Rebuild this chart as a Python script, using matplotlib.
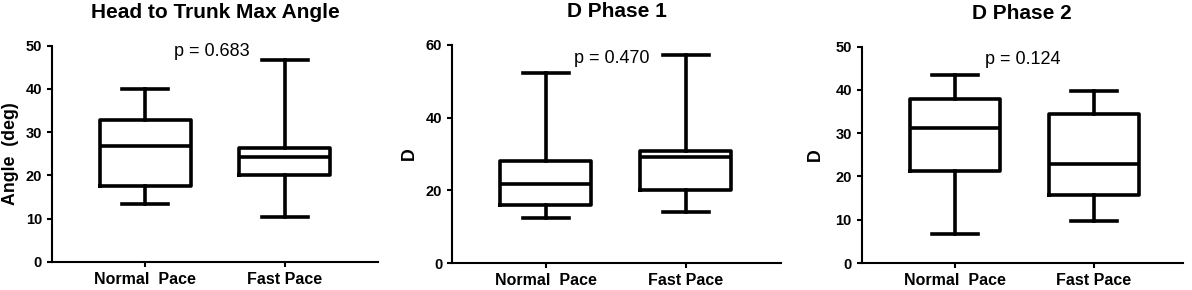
import matplotlib
matplotlib.use("Agg")
import matplotlib.pyplot as plt

plt.rcParams["font.family"] = ["Liberation Sans", "DejaVu Sans"]

# five-number summaries (min, Q1, median, Q3, max)
groups = ["Normal  Pace", "Fast Pace"]

head_normal = [13.4, 17.5, 26.8, 32.7, 40.0]
head_fast = [10.3, 20.2, 24.2, 26.3, 46.7]

phase1_normal = [12.4, 16.0, 21.7, 28.0, 52.3]
phase1_fast = [14.1, 20.1, 29.1, 30.9, 57.2]

phase2_normal = [6.6, 21.3, 31.3, 38.0, 43.5]
phase2_fast = [9.8, 15.8, 22.8, 34.4, 39.8]

titles = ["Head to Trunk Max Angle", "D Phase 1", "D Phase 2"]
ylabels = ["Angle  (deg)", "D", "D"]
p_texts = ["p = 0.683", "p = 0.470", "p = 0.124"]
y_maxes = [50, 60, 50]
y_steps = [10, 20, 10]

panels = [
    (head_normal, head_fast),
    (phase1_normal, phase1_fast),
    (phase2_normal, phase2_fast),
]

# layout (figure fractions) and annotation placement
axes_rects = [
    [0.0436, 0.0966, 0.2735, 0.746],
    [0.3792, 0.0931, 0.2760, 0.752],
    [0.7229, 0.0931, 0.2693, 0.746],
]
xlims = [(0.33, 2.67), (0.33, 2.68), (0.33, 2.64)]
p_pos = [(1.48, 48.6), (1.47, 56.3), (1.486, 47.0)]
label_x = [-0.102, -0.104, -0.118]

fig = plt.figure(figsize=(11.92, 2.90), dpi=100)

for k in range(3):
    ax = fig.add_axes(axes_rects[k])
    stats = []
    for name, s in zip(groups, panels[k]):
        stats.append({"label": name, "whislo": s[0], "q1": s[1], "med": s[2],
                      "q3": s[3], "whishi": s[4], "fliers": []})
    lw = 2.6
    ax.bxp(stats, positions=[1, 2], widths=0.65, capwidths=0.33,
           showfliers=False,
           boxprops=dict(color="black", linewidth=lw),
           whiskerprops=dict(color="black", linewidth=lw),
           capprops=dict(color="black", linewidth=lw),
           medianprops=dict(color="black", linewidth=lw))

    ax.set_xlim(*xlims[k])
    ax.set_ylim(0, y_maxes[k])
    ax.set_yticks(range(0, y_maxes[k] + 1, y_steps[k]))
    ax.set_xticks([1, 2])
    ax.set_xticklabels(groups, fontsize=11.5, fontweight="bold")
    for t in ax.get_yticklabels():
        t.set_fontweight("bold")
        t.set_fontsize(10.5)

    for side in ["top", "right"]:
        ax.spines[side].set_visible(False)
    for side in ["left", "bottom"]:
        ax.spines[side].set_linewidth(1.5)
    ax.tick_params(axis="both", direction="out", length=3.6, width=1.5, pad=3.5)

    ax.set_title(titles[k], fontsize=15, fontweight="bold", pad=20)
    ax.set_ylabel(ylabels[k], fontsize=12.8, fontweight="bold")
    ax.yaxis.set_label_coords(label_x[k], 0.5)

    ax.text(p_pos[k][0], p_pos[k][1], p_texts[k], fontsize=13,
            ha="center", va="center")

fig.savefig("out.png", dpi=100)
